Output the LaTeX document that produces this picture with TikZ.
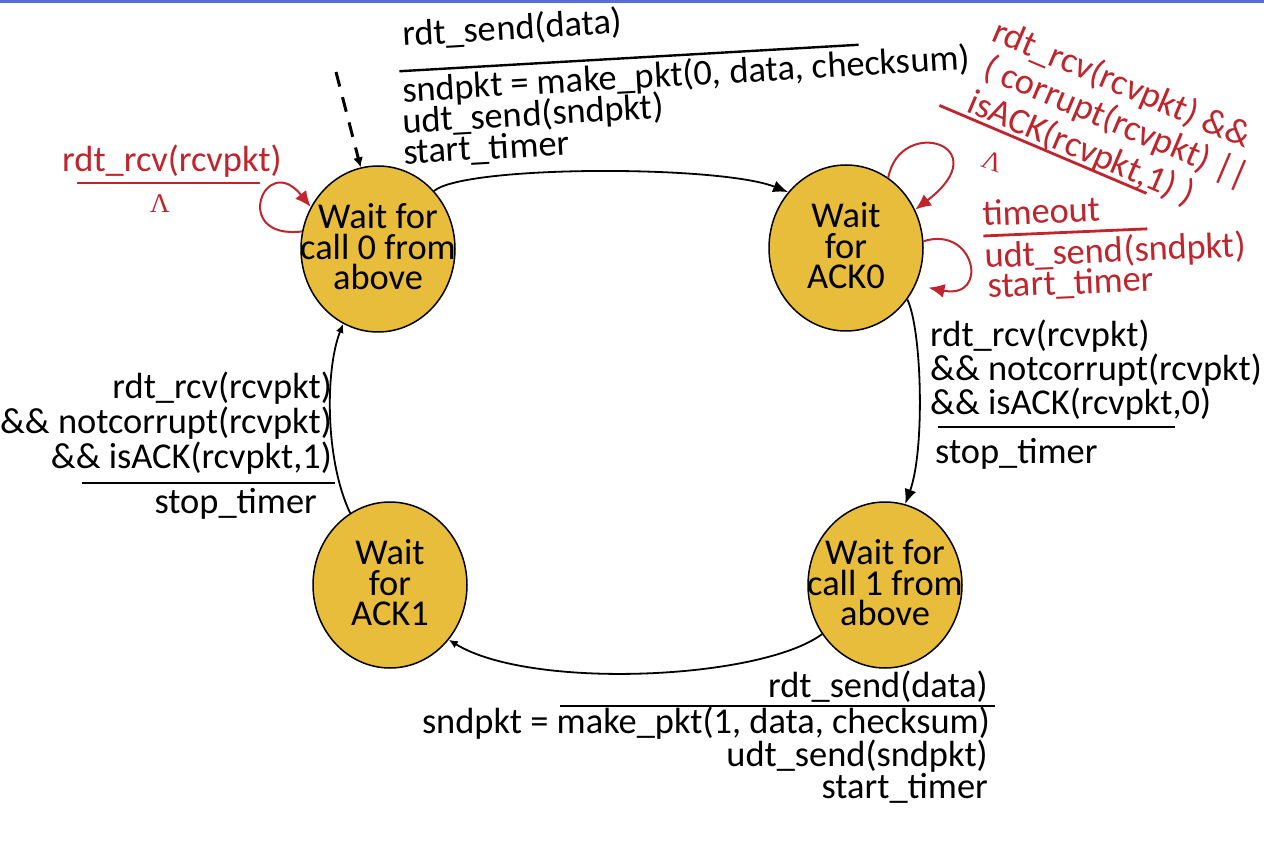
\documentclass[tikz,border=0pt]{standalone}
\usepackage{fontspec}
\setmainfont{Carlito}
\newfontfamily\serifgreek{Liberation Serif}
\usetikzlibrary{shapes.geometric,arrows.meta}
\definecolor{gold}{RGB}{231,189,59}
\definecolor{myred}{RGB}{192,36,44}
\definecolor{topblue}{RGB}{88,110,214}
\newcommand\lblfont{\fontsize{36.4}{31}\selectfont}
\begin{document}
\begin{tikzpicture}[x=1pt,y=-1pt,
 fsmstate/.style={ellipse, draw=black, line width=1.5pt, fill=gold, minimum width=154pt, minimum height=166pt, inner sep=0pt},
 stext/.style={align=center, font=\fontsize{36.4}{30.5}\selectfont, inner sep=0pt},
 lbl/.style={inner sep=0pt, font=\lblfont},
 rlbl/.style={lbl, text=myred},
 lam/.style={inner sep=0pt, text=myred, font=\serifgreek\fontsize{27}{28}\selectfont},
 trans/.style={draw=black, line width=1.8pt, -{Latex[length=15pt,width=12pt]}},
 transs/.style={draw=black, line width=1.8pt, -{Latex[length=9pt,width=8pt]}},
 initarr/.style={draw=black, line width=3pt, dash pattern=on 15pt off 11pt, -{Latex[length=10pt,width=10pt]}},
 rloop/.style={draw=myred, line width=2pt, -{Latex[length=16pt,width=14pt]}},
 brule/.style={draw=black, line width=2.4pt},
 rrule/.style={draw=myred, line width=2.8pt},
]
\useasboundingbox (0,0) rectangle (1264,842);
\fill[white] (0,0) rectangle (1264,842);
\fill[topblue] (0,0) rectangle (1264,3);

% states
\node[fsmstate] (A) at (378,249) {};
\node[fsmstate] (B) at (846,248) {};
\node[fsmstate] (C) at (885,585) {};
\node[fsmstate] (D) at (390,585) {};
\node[stext] (At) at (378,247) {Wait for\\call 0 from\\above};
\node[stext] (Bt) at (846,246) {Wait\\for\\ACK0};
\node[stext] (Ct) at (885,583) {Wait for\\call 1 from\\above};
\node[stext] (Dt) at (390,583) {Wait\\for\\ACK1};

% transitions
\draw[trans] (A.46) .. controls (465,165) and (720,165) .. (B.136);
\draw[trans] (B.-40) .. controls (922,330) and (925,450) .. (C.76);
\draw[transs] (C.-142) .. controls (760,680) and (530,690) .. (D.-43);
\draw[transs] (D.119) .. controls (325,460) and (325,370) .. (A.-115);
\coordinate (init) at (336,72);
\draw[initarr] (init) -- (A.102);

% red self loops
\draw[rloop] (A.167) .. controls (230,240) and (265,150) .. (A.148);
\draw[rloop] (B.59) .. controls (900,115) and (1000,145) .. (B.29);
\draw[rloop, shorten >=13pt] (B.5) .. controls (975,225) and (990,300) .. (B.-28);

% top label
\begin{scope}[shift={(403,46)}, rotate=3.3, transform shape]
\node[lbl, anchor=base west] (ta1) at (0,0) {rdt\_send(data)};
\draw[brule] (-5,25) -- (455,25);
\node[lbl, anchor=base west] (ta2) at (-3,56) {sndpkt = make\_pkt(0, data, checksum)};
\node[lbl, anchor=base west] (ta3) at (-5,87) {udt\_send(sndpkt)};
\node[lbl, anchor=base west] (ta4) at (-6,118) {start\_timer};
\end{scope}

% right label
\node[lbl, anchor=base west] (rb1) at (930,347) {rdt\_rcv(rcvpkt)};
\node[lbl, anchor=base west] (rb2) at (930,381) {\&\& notcorrupt(rcvpkt)};
\node[lbl, anchor=base west] (rb3) at (930,414) {\&\& isACK(rcvpkt,0)};
\draw[brule] (938,427) -- (1175,427);
\node[lbl, anchor=base west] (rb4) at (935,463) {stop\_timer};

% left label
\node[lbl, anchor=base east] (lt1) at (332,399) {rdt\_rcv(rcvpkt)};
\node[lbl, anchor=base east] (lt2) at (332,433) {\&\& notcorrupt(rcvpkt)};
\node[lbl, anchor=base east] (lt3) at (332,468) {\&\& isACK(rcvpkt,1)};
\draw[brule] (82,483) -- (335,483);
\node[lbl, anchor=base east] (lt4) at (317,513) {stop\_timer};

% bottom label
\node[lbl, anchor=base east] (bt1) at (988,697) {rdt\_send(data)};
\draw[brule] (560,706) -- (995,706);
\node[lbl, anchor=base east] (bt2) at (990,733) {sndpkt = make\_pkt(1, data, checksum)};
\node[lbl, anchor=base east] (bt3) at (988,766) {udt\_send(sndpkt)};
\node[lbl, anchor=base east] (bt4) at (988,798) {start\_timer};

% red left label
\node[rlbl, anchor=base west] (rl1) at (62,172) {rdt\_rcv(rcvpkt)};
\draw[rrule] (77,183) -- (260,183);
\node[lam, anchor=base] (rl2) at (160,213) {Λ};

% red top-right label
\begin{scope}[shift={(990,40)}, rotate=-23, transform shape]
\node[rlbl, anchor=base west] (rt1) at (0,0) {rdt\_rcv(rcvpkt) \&\&};
\node[rlbl, anchor=base west] (rt2) at (6,37) {( corrupt(rcvpkt) ||};
\node[rlbl, anchor=base west] (rt3) at (5,75) {isACK(rcvpkt,1) )};
\draw[rrule] (-21,80) -- (204,80);
\end{scope}
\node[lam, rotate=-20] (rL) at (993,161) {Λ};

% red timeout label
\begin{scope}[shift={(983,226)}, rotate=2.5, transform shape]
\node[rlbl, anchor=base west] (rm1) at (0,0) {timeout};
\draw[rrule] (0,10) -- (164,10);
\node[rlbl, anchor=base west] (rm2) at (0,42) {udt\_send(sndpkt)};
\node[rlbl, anchor=base west] (rm3) at (2,72) {start\_timer};
\end{scope}
\end{tikzpicture}
\end{document}
